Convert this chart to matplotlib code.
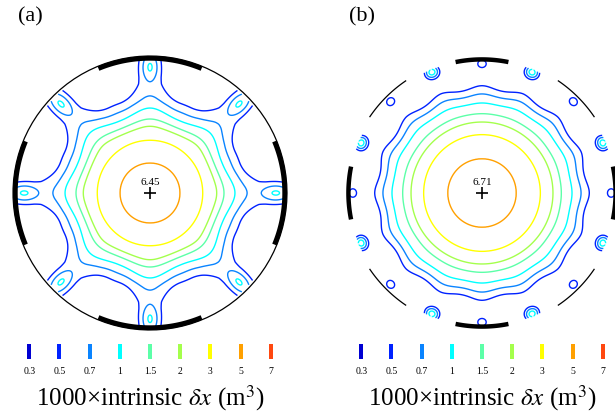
import numpy as np
import matplotlib
matplotlib.use('Agg')
import matplotlib.pyplot as plt
from matplotlib.patches import Rectangle

plt.rcParams['font.family'] = ['Liberation Serif', 'DejaVu Serif']
plt.rcParams['mathtext.fontset'] = 'stix'

# contour levels and their colours (legend under each panel)
levels = [0.3, 0.5, 0.7, 1, 1.5, 2, 3, 5, 7]
level_labels = ['0.3', '0.5', '0.7', '1', '1.5', '2', '3', '5', '7']
level_colors = ['#0000d2', '#0022ff', '#0a84ff', '#00ffff', '#5cffa8',
                '#a4ff4c', '#ffff00', '#ffa000', '#ff4810']

# (a) four electrodes: values read along the electrode axis (ridge)
# and half way between two ridges (flat), radius as fraction of R
peak_a = 6.45
ridge_r_a = [0.0, 0.219, 0.385, 0.487, 0.54, 0.62, 0.708, 0.80, 0.90, 1.0]
ridge_v_a = [6.45, 5.0, 3.0, 2.0, 1.5, 1.0, 0.7, 0.61, 0.58, 0.56]
flat_r_a = [0.0, 0.219, 0.385, 0.47, 0.515, 0.57, 0.63, 0.69, 0.80, 1.0]
flat_v_a = [6.45, 5.0, 3.0, 2.0, 1.5, 1.0, 0.7, 0.5, 0.4, 0.35]
# sharpness of the ridges with radius
sharp_r_a = [0.0, 0.55, 0.65, 0.75, 0.85, 1.0]
sharp_p_a = [1.0, 1.0, 1.5, 3.0, 4.5, 4.5]
# small maxima next to the wall (8 of them)
bump_a = dict(r=0.92, amp=0.47, sr=0.06, st=0.036)

# (b) eight electrodes: radial profile and 16-fold waviness
peak_b = 6.71
prof_r_b = [0.0, 0.25, 0.426, 0.518, 0.579, 0.657, 0.723, 0.783, 0.88, 1.0]
prof_v_b = [6.71, 5.0, 3.0, 2.0, 1.5, 1.0, 0.7, 0.5, 0.4, 0.36]
wave_r_b = [0.0, 0.56, 0.62, 0.657, 0.723, 0.783, 0.85, 1.0]
wave_m_b = [0.0, 0.0, 0.01, 0.02, 0.05, 0.09, 0.08, 0.06]
bump_el_b = dict(r=0.945, amp=0.21, sr=0.026, st=0.03)
bump_gap_b = dict(r=0.955, amp=0.82, sr=0.027, st=0.03)

W, H = 615, 417
R = 137.0
centers = [(150, 193), (482, 193)]


def ang_dist(th, period, offset=0.0):
    return (th - offset + period / 2) % period - period / 2


def bump(r, d, b):
    return b['amp'] * np.exp(-(r - b['r']) ** 2 / (2 * b['sr'] ** 2)
                             - (r * np.sin(d)) ** 2 / (2 * b['st'] ** 2))


def field_a(X, Y):
    r = np.hypot(X, Y)
    th = np.arctan2(Y, X)
    d = ang_dist(th, np.pi / 4)
    lr = np.interp(r, ridge_r_a, np.log(ridge_v_a))
    lf = np.interp(r, flat_r_a, np.log(flat_v_a))
    p = np.interp(r, sharp_r_a, sharp_p_a)
    c = ((1 + np.cos(8 * th)) / 2) ** p
    f = np.exp(lf + (lr - lf) * c)
    return f + bump(r, d, bump_a)


def field_b(X, Y):
    r = np.hypot(X, Y)
    th = np.arctan2(Y, X)
    L = np.interp(r, prof_r_b, np.log(prof_v_b))
    M = np.interp(r, wave_r_b, wave_m_b)
    f = np.exp(L + M * (np.cos(16 * th) - 1))
    f += bump(r, ang_dist(th, np.pi / 4), bump_el_b)
    f += bump(r, ang_dist(th, np.pi / 4, np.pi / 8), bump_gap_b)
    return f


def make_axes(fig, cx, cy):
    half = 1.08 * R
    ax = fig.add_axes([(cx - half) / W, (H - cy - half) / H, 2 * half / W, 2 * half / H])
    ax.set_xlim(-1.08, 1.08)
    ax.set_ylim(-1.08, 1.08)
    ax.axis('off')
    return ax


def draw_arc(ax, r, a0, a1, lw):
    t = np.radians(np.linspace(a0, a1, 100))
    ax.plot(r * np.cos(t), r * np.sin(t), color='black', lw=lw,
            solid_capstyle='butt', clip_on=False)


def draw_legend(fig, cx):
    for i, (lab, col) in enumerate(zip(level_labels, level_colors)):
        x = cx + (i - 4) * 30.2
        fig.add_artist(Rectangle(((x - 2) / W, 1 - 359 / H), 4 / W, 15 / H,
                                 transform=fig.transFigure, color=col, lw=0))
        fig.text(x / W, 1 - 372 / H, lab, ha='center', va='center', fontsize=7)
    fig.text(cx / W, 1 - 398 / H, '1000×intrinsic $\\delta x$ (m$^3$)',
             ha='center', va='center', fontsize=18)


fig = plt.figure(figsize=(W / 100, H / 100), dpi=100)

g = np.linspace(-1, 1, 701)
X, Y = np.meshgrid(g, g)
Rr = np.hypot(X, Y)

# panel (a)
ax = make_axes(fig, *centers[0])
Fa = np.ma.masked_where(Rr > 0.985, field_a(X, Y))
ax.contour(X, Y, Fa, levels=levels, colors=level_colors, linewidths=1.0)
draw_arc(ax, 1.0, 0, 360, 0.9)
for a in [0, 90, 180, 270]:
    draw_arc(ax, 0.983, a - 22.5, a + 22.5, 3.4)
ax.plot(0, 0, marker='+', color='black', ms=8, mew=1.2)
ax.text(0, 0.075, f'{peak_a:.2f}', ha='center', va='center', fontsize=8)
draw_legend(fig, centers[0][0])
fig.text(18 / W, 1 - 17 / H, '(a)', ha='left', va='center', fontsize=16)

# panel (b)
ax = make_axes(fig, *centers[1])
Fb = np.ma.masked_where(Rr > 0.975, field_b(X, Y))
ax.contour(X, Y, Fb, levels=levels, colors=level_colors, linewidths=1.0)
for a in [45, 135, 225, 315]:
    draw_arc(ax, 0.99, a - 11, a + 11, 0.9)
for a in [0, 90, 180, 270]:
    draw_arc(ax, 0.975, a - 11.4, a + 11.4, 3.2)
ax.plot(0, 0, marker='+', color='black', ms=8, mew=1.2)
ax.text(0, 0.075, f'{peak_b:.2f}', ha='center', va='center', fontsize=8)
draw_legend(fig, centers[1][0])
fig.text(349 / W, 1 - 17 / H, '(b)', ha='left', va='center', fontsize=16)

fig.savefig('out.png', dpi=100)
